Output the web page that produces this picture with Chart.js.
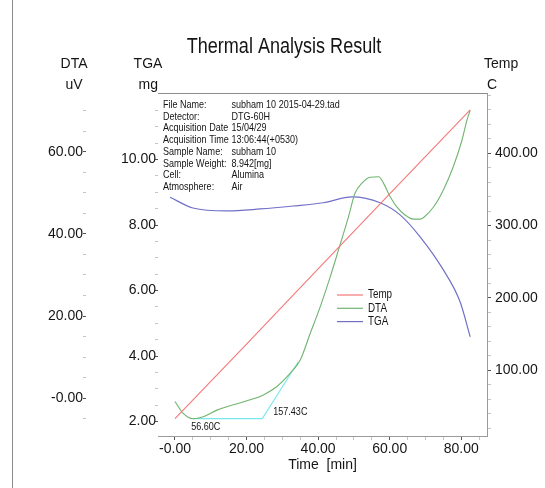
<!DOCTYPE html>
<html>
<head>
<meta charset="utf-8">
<title>Thermal Analysis Result</title>
<script src="https://cdn.jsdelivr.net/npm/chart.js@4.4.0/dist/chart.umd.min.js"></script>
<style>
  html, body { margin: 0; padding: 0; background: #fff; }
  #wrap { position: relative; width: 545px; height: 488px; }
  #frame { position: absolute; left: 12px; top: 0; width: 1px; height: 488px;
           background: #8c8c8c; pointer-events: none; }
</style>
</head>
<body>
<div id="wrap">
  <canvas id="thermal-chart" width="545" height="488"></canvas>
  <div id="frame"></div>
</div>
<script>
const FONT = "'Liberation Sans', Arial, sans-serif";

// axis ticks
const timeTicks = [0, 20, 40, 60, 80];
const timeTickLabels = ['-0.00', '20.00', '40.00', '60.00', '80.00'];
const timeMinorTicks = [5, 10, 15, 25, 30, 35, 45, 50, 55, 65, 70, 75, 85];

const dtaTicks = [0, 20, 40, 60];
const dtaTickLabels = ['-0.00', '20.00', '40.00', '60.00'];
const dtaMinorTicks = [-5, 5, 10, 15, 25, 30, 35, 45, 50, 55, 65, 70];

const tgaTicks = [2, 4, 6, 8, 10];
const tgaTickLabels = ['2.00', '4.00', '6.00', '8.00', '10.00'];
const tgaMinorTicks = [2.5, 3, 3.5, 4.5, 5, 5.5, 6.5, 7, 7.5, 8.5, 9, 9.5, 10.5, 11, 11.5];

const tempTicks = [100, 200, 300, 400];
const tempTickLabels = ['100.00', '200.00', '300.00', '400.00'];
const tempMinorTicks = [20, 40, 60, 80, 120, 140, 160, 180, 220, 240, 260, 280,
                        320, 340, 360, 380, 420, 440, 460, 480];

// series (time in min)
const tempTime = [0, 20, 40, 60, 82.5];
const tempValues = [33, 136, 240, 344, 460];

const dtaTime = [0, 2.3, 5.1, 7.9, 11.7, 16.3, 21.0, 24.7, 28.4, 32.2, 35.0, 37.8, 40.6,
                 43.4, 45.7, 48.5, 50.3, 52.2, 54.5, 56.9, 58.3, 60.1, 62.0, 64.3, 66.7,
                 68.5, 69.5, 72.3, 75.0, 77.8, 80.2, 81.6, 82.5];
const dtaValues = [-0.8, -3.7, -5.0, -4.5, -2.9, -1.6, -0.4, 0.8, 2.8, 6.1, 9.3, 15.8, 22.3,
                   29.6, 36.1, 44.2, 49.9, 52.3, 53.8, 53.9, 52.3, 49.1, 46.6, 44.6, 43.6,
                   43.6, 44.0, 46.6, 50.7, 56.4, 62.8, 67.7, 70.1];

const tgaTime = [-1.4, 5.0, 14.5, 23.8, 33.0, 41.4, 49.5, 57.3, 62.9, 68.5, 75.0, 79.7, 82.5];
const tgaValues = [8.85, 8.52, 8.43, 8.49, 8.58, 8.68, 8.86, 8.68, 8.31, 7.64, 6.63, 5.65, 4.59];

// onset construction on the DTA curve
const onsetTime = [5.1, 24.4, 34.4];
const onsetValues = [-4.96, -4.96, 8.8];
const onsetLabels = ['56.60C', '157.43C'];

const infoLabels = ['File Name:', 'Detector:', 'Acquisition Date', 'Acquisition Time',
                    'Sample Name:', 'Sample Weight:', 'Cell:', 'Atmosphere:'];
const infoValues = ['subham 10 2015-04-29.tad', 'DTG-60H', '15/04/29', '13:06:44(+0530)',
                    'subham 10', '8.942[mg]', 'Alumina', 'Air'];

function toPoints(xs, ys) {
  return xs.map((x, i) => ({ x: x, y: ys[i] }));
}

function setTicks(major, minor) {
  return function (scale) {
    scale.ticks = major.concat(minor).sort((a, b) => a - b).map(v => ({ value: v }));
  };
}

function labelFor(major, labels) {
  return function (value) {
    const i = major.indexOf(value);
    return i >= 0 ? labels[i] : '';
  };
}

function tickColorFor(major) {
  return ctx => (ctx.tick && major.includes(ctx.tick.value)) ? '#555' : '#c4c4c4';
}

// narrow text, like the instrument's condensed font
function narrowText(ctx, text, x, y, size, align) {
  ctx.save();
  ctx.font = size + 'px ' + FONT;
  ctx.textAlign = align || 'left';
  ctx.translate(x, y);
  ctx.scale(0.82, 1);
  ctx.fillText(text, 0, 0);
  ctx.restore();
}

// headers, info block, legend and onset labels
const textPlugin = {
  id: 'thermalText',
  afterDraw(chart) {
    const ctx = chart.ctx;
    const area = chart.chartArea;
    const s = chart.scales;
    ctx.save();
    ctx.fillStyle = '#151515';
    ctx.textBaseline = 'middle';

    narrowText(ctx, 'Thermal Analysis Result', 284, 47, 22, 'center');

    ctx.font = '14px ' + FONT;
    ctx.textAlign = 'center';
    ctx.fillText('DTA', s.yDta.right - 12, area.top - 29);
    ctx.fillText('uV', s.yDta.right - 12, area.top - 8);
    ctx.fillText('TGA', s.yTga.right - 10, area.top - 29);
    ctx.textAlign = 'right';
    ctx.fillText('mg', s.yTga.right, area.top - 8);
    ctx.textAlign = 'left';
    ctx.fillText('Temp', s.yTemp.left - 3, area.top - 29);
    ctx.fillText('C', s.yTemp.left, area.top - 8);

    infoLabels.forEach((lab, i) => {
      const y = area.top + 12 + i * 11.7;
      narrowText(ctx, lab, area.left + 5, y, 11);
      narrowText(ctx, infoValues[i], area.left + 73.5, y, 11);
    });

    // legend
    chart.data.datasets.slice(0, 3).forEach((ds, i) => {
      const y = area.top + 202 + i * 13.3;
      ctx.strokeStyle = ds.borderColor;
      ctx.lineWidth = 1.2;
      ctx.beginPath();
      ctx.moveTo(area.left + 179, y);
      ctx.lineTo(area.left + 205, y);
      ctx.stroke();
      narrowText(ctx, ds.label, area.left + 210, y, 12);
    });

    // onset labels
    const px0 = s.x.getPixelForValue(onsetTime[0]);
    const py0 = s.yDta.getPixelForValue(onsetValues[0]);
    narrowText(ctx, onsetLabels[0], px0 - 2, py0 + 8, 11);
    const px1 = s.x.getPixelForValue(onsetTime[1]);
    const py1 = s.yDta.getPixelForValue(onsetValues[1]);
    narrowText(ctx, onsetLabels[1], px1 + 11, py1 - 7, 11);
    ctx.restore();
  }
};

function makeChart() {
  const ctx = document.getElementById('thermal-chart').getContext('2d');
  Chart.defaults.font.family = FONT;
  new Chart(ctx, {
    type: 'line',
    data: {
      datasets: [
        {
          label: 'Temp',
          data: toPoints(tempTime, tempValues),
          yAxisID: 'yTemp',
          borderColor: 'rgb(245,120,120)',
          borderWidth: 1.1,
          pointRadius: 0,
          tension: 0,
        },
        {
          label: 'DTA',
          data: toPoints(dtaTime, dtaValues),
          yAxisID: 'yDta',
          borderColor: 'rgb(112,180,112)',
          borderWidth: 1.1,
          pointRadius: 0,
          cubicInterpolationMode: 'monotone',
        },
        {
          label: 'TGA',
          data: toPoints(tgaTime, tgaValues),
          yAxisID: 'yTga',
          borderColor: 'rgb(112,112,200)',
          borderWidth: 1.2,
          pointRadius: 0,
          cubicInterpolationMode: 'monotone',
        },
        {
          label: 'Onset',
          data: toPoints(onsetTime, onsetValues),
          yAxisID: 'yDta',
          borderColor: 'rgb(120,232,236)',
          borderWidth: 1.1,
          pointRadius: 0,
          tension: 0,
        },
      ],
    },
    options: {
      responsive: false,
      animation: false,
      layout: { padding: { top: 93, left: 14, right: 0, bottom: 0 } },
      plugins: {
        legend: { display: false },
        tooltip: { enabled: false },
        title: { display: false },
      },
      scales: {
        x: {
          type: 'linear',
          position: 'bottom',
          min: -4.75,
          max: 87.2,
          afterBuildTicks: setTicks(timeTicks, timeMinorTicks),
          afterFit: scale => { scale.height = 52; },
          ticks: {
            callback: labelFor(timeTicks, timeTickLabels),
            autoSkip: false,
            maxRotation: 0,
            padding: 1,
            color: '#151515',
            font: { size: 14 },
          },
          grid: { drawOnChartArea: false, tickLength: 4, tickColor: tickColorFor(timeTicks) },
          border: { color: '#9a9a9a' },
          title: {
            display: true,
            text: 'Time  [min]',
            color: '#151515',
            font: { size: 14 },
            padding: { top: 0, bottom: 14 },
          },
        },
        xTop: {
          type: 'linear',
          position: 'top',
          min: -4.75,
          max: 87.2,
          afterFit: scale => { scale.height = 0; },
          ticks: { display: false },
          grid: { display: false },
          border: { color: '#8c8c8c' },
        },
        yTga: {
          type: 'linear',
          position: 'left',
          min: 1.56,
          max: 12.03,
          afterBuildTicks: setTicks(tgaTicks, tgaMinorTicks),
          afterFit: scale => { scale.width = 72; },
          ticks: {
            callback: labelFor(tgaTicks, tgaTickLabels),
            autoSkip: false,
            padding: -1,
            color: '#151515',
            font: { size: 14 },
          },
          grid: { drawOnChartArea: false, tickLength: 3, tickColor: tickColorFor(tgaTicks) },
          border: { display: false },
        },
        yDta: {
          type: 'linear',
          position: 'left',
          min: -9.2,
          max: 74.3,
          afterBuildTicks: setTicks(dtaTicks, dtaMinorTicks),
          afterFit: scale => { scale.width = 72; },
          ticks: {
            callback: labelFor(dtaTicks, dtaTickLabels),
            autoSkip: false,
            padding: 0,
            color: '#151515',
            font: { size: 14 },
          },
          grid: { drawOnChartArea: false, tickLength: 3, tickColor: tickColorFor(dtaTicks) },
          border: { display: false },
        },
        yTemp: {
          type: 'linear',
          position: 'right',
          min: 9,
          max: 483.4,
          afterBuildTicks: setTicks(tempTicks, tempMinorTicks),
          afterFit: scale => { scale.width = 58; },
          ticks: {
            callback: labelFor(tempTicks, tempTickLabels),
            autoSkip: false,
            padding: 4,
            color: '#151515',
            font: { size: 14 },
          },
          grid: { drawOnChartArea: false, tickLength: 4, tickColor: tickColorFor(tempTicks) },
          border: { color: '#9a9a9a' },
        },
      },
    },
    plugins: [textPlugin],
  });
}

window.onload = makeChart;
</script>
</body>
</html>
